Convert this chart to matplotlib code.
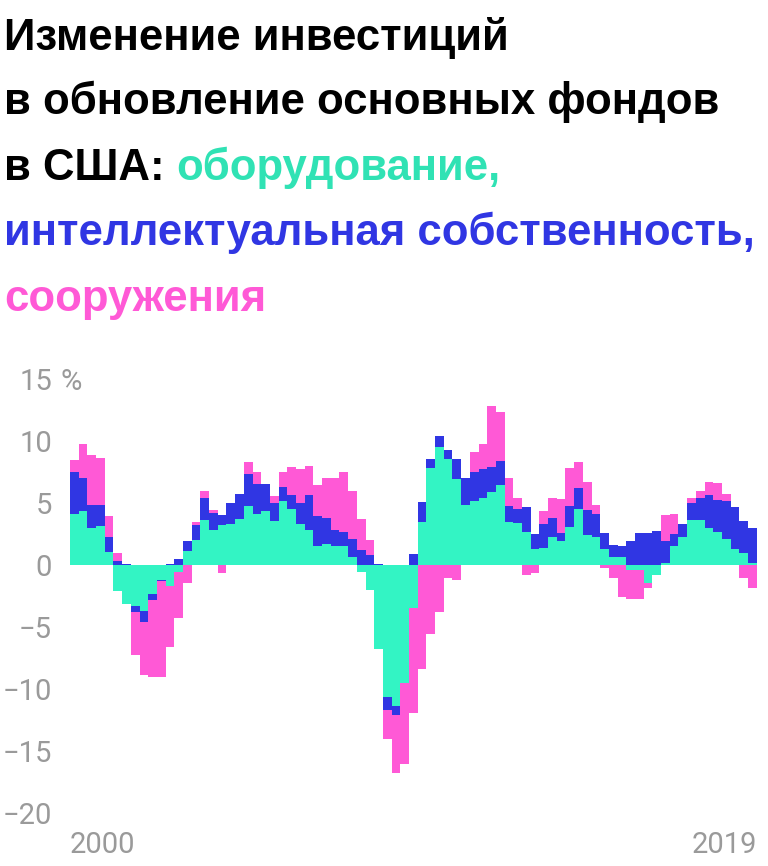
import matplotlib
matplotlib.use("Agg")
import matplotlib.pyplot as plt
import matplotlib.transforms as mtransforms
import numpy as np

plt.rcParams['font.family'] = ['Roboto', 'DejaVu Sans']

# Quarterly contributions (percentage points), 2000Q1 .. 2019Q3
equipment = [4.11, 4.33, 2.96, 3.17, 1.08, -2.10, -3.15, -3.30, -3.74, -2.37,
             -1.21, -1.67, -0.56, 1.16, 2.02, 3.63, 2.82, 3.20, 3.31, 3.72,
             4.78, 4.13, 4.33, 3.52, 5.13, 4.52, 3.31, 2.82, 1.56, 1.69,
             1.56, 1.56, 0.67, -0.58, -2.02, -6.80, -10.66, -11.35, -9.50, -3.44,
             3.49, 7.85, 9.48, 8.53, 6.97, 4.83, 5.16, 5.43, 5.91, 6.45,
             3.49, 3.35, 2.69, 1.26, 1.40, 2.28, 1.96, 3.09, 4.52, 2.42,
             2.28, 1.29, 0.67, 0.67, -0.40, -0.40, -1.48, -0.83, 0.13, 1.53,
             2.28, 3.63, 3.63, 2.96, 2.69, 2.12, 1.26, 0.99, 0.19]
intellectual = [3.42, 2.66, 1.91, 1.70, 1.20, 0.32, 0.10, -0.52, -0.83, -0.43,
                -0.08, 0.08, 0.51, 0.78, 1.23, 1.80, 1.37, 0.83, 1.66, 1.97,
                2.53, 2.44, 2.23, 1.48, 1.16, 1.15, 1.69, 2.85, 2.42, 2.10,
                1.26, 1.10, 1.40, 1.24, 0.83, 0.08, -1.03, -0.73, 0.0, 0.92,
                1.57, 0.69, 0.93, 0.78, 1.57, 2.15, 2.37, 2.31, 2.02, 1.96,
                1.29, 1.15, 1.96, 1.24, 1.91, 1.51, 0.59, 1.69, 1.72, 2.04,
                1.83, 1.26, 0.97, 0.86, 1.94, 2.55, 2.55, 2.77, 1.83, 1.00,
                1.03, 1.40, 1.77, 2.69, 2.55, 3.07, 3.39, 2.53, 2.77]
structures = [0.94, 2.77, 4.00, 3.73, 1.64, 0.62, 0.0, -3.46, -4.27, -6.20,
              -7.71, -4.92, -3.74, -1.42, 0.24, 0.54, 0.27, -0.62, 0.0, 0.0,
              1.02, 0.97, 0.0, 0.54, 1.24, 2.21, 2.72, 2.31, 2.47, 3.20,
              4.17, 4.87, 3.90, 2.47, 1.16, 0.0, -2.37, -4.72, -6.52, -8.50,
              -8.39, -5.54, -3.82, -1.08, -1.23, 0.0, 1.55, 2.02, 4.89, 3.90,
              2.21, 0.92, -0.81, -0.62, 1.02, 1.59, 2.75, 3.07, 2.04, 2.23,
              0.70, -0.27, -1.02, -2.60, -2.34, -2.34, -0.35, 0.0, 2.04, 1.58,
              0.0, 0.37, 0.57, 1.04, 1.35, 0.54, 0.0, -1.02, -1.83]

series = [equipment, intellectual, structures]
colors = ['#33F4C4', '#3036E3', '#FF59D6']

y_ticks = [-20, -15, -10, -5, 0, 5, 10, 15]
y_labels = ['\u221220', '\u221215', '\u221210', '\u22125', '0', '5', '10', '15']
x_labels = ['2000', '2019']

fig = plt.figure(figsize=(7.68, 8.66), dpi=100)
W, H = 768, 866

# Title
title_lines = [
    ([('Изменение инвестиций', '#000000')], 50),
    ([('в обновление основных фондов', '#000000')], 114),
    ([('в США: ', '#000000'), ('оборудование,', '#30E2B4')], 180),
    ([('интеллектуальная собственность,', '#3036E3')], 245),
    ([('сооружения', '#FF59D6')], 311),
]
fs_title = 31.5
renderer = fig.canvas.get_renderer()
for parts, base in title_lines:
    x = 4
    for txt, col in parts:
        t = fig.text(x / W, 1 - base / H, txt, color=col, fontsize=fs_title,
                     fontweight='bold', ha='left', va='baseline',
                     family=['Liberation Sans', 'DejaVu Sans'])
        bb = t.get_window_extent(renderer=renderer)
        x = bb.x1

ax = fig.add_axes([70 / W, 1 - 813 / H, (756.7 - 70) / W, (813 - 379) / H])
n = len(equipment)
idx = np.arange(n)
pos_bottom = np.zeros(n)
neg_bottom = np.zeros(n)
for vals, col in zip(series, colors):
    v = np.array(vals)
    pos = np.where(v > 0, v, 0)
    neg = np.where(v < 0, v, 0)
    ax.bar(idx, pos, bottom=pos_bottom, width=1.0, color=col, linewidth=0)
    ax.bar(idx, neg, bottom=neg_bottom, width=1.0, color=col, linewidth=0)
    pos_bottom += pos
    neg_bottom += neg

ax.set_xlim(-0.5, n - 0.5)
ax.set_ylim(-20, 15)
for s in ax.spines.values():
    s.set_visible(False)
ax.set_xticks([])
ax.set_yticks(y_ticks)
ax.set_yticklabels(y_labels)
ax.tick_params(axis='y', length=0, pad=13, labelsize=21, labelcolor='#9A9A9A')

trans = mtransforms.blended_transform_factory(ax.transAxes, ax.transData)
ax.text(-10 / 686.7, 15, '%', transform=trans, ha='left', va='center_baseline',
        fontsize=21, color='#9A9A9A')

fig.text(70 / W, 1 - 845 / H, x_labels[0], ha='left', va='center',
         fontsize=21, color='#9A9A9A')
fig.text(757 / W, 1 - 845 / H, x_labels[1], ha='right', va='center',
         fontsize=21, color='#9A9A9A')

fig.savefig('out.png', dpi=100)
